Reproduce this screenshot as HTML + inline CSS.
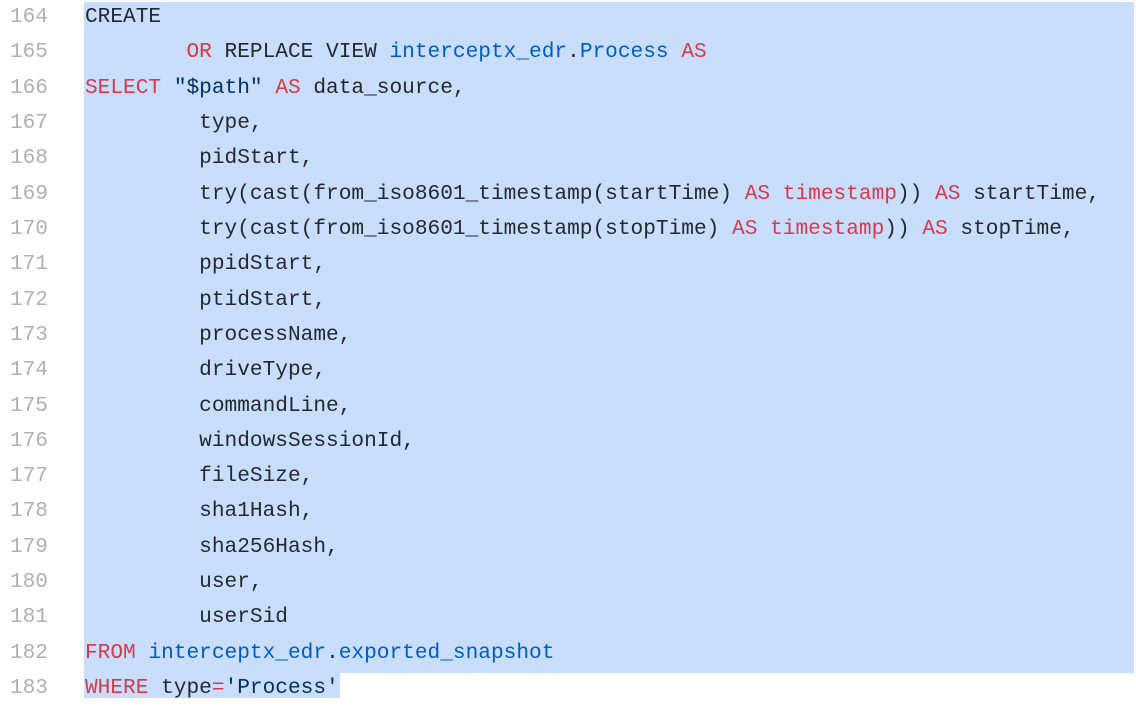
<!DOCTYPE html>
<html><head><meta charset="utf-8"><style>
body{margin:0;width:1136px;height:712px;background:#fff;position:relative;overflow:hidden;font-family:"Liberation Mono",monospace;font-size:21.15px}
.hl{position:absolute;background:#c8defc}
.ln{position:absolute;left:0;width:48px;text-align:right;color:#b0b0b0}
.c{position:absolute;left:85px;color:#24292e;white-space:pre}
.k{color:#d73a49}.b{color:#005cc5}.s{color:#032f62}
</style></head><body>
<div class="hl" style="left:84px;top:2px;width:1050px;height:671px"></div>
<div class="hl" style="left:84px;top:673px;width:256px;height:25px"></div>
<div id="w"></div>
<script>
var L=[
'CREATE',
'        <span class="k">OR</span> REPLACE VIEW <span class="b">interceptx_edr</span>.<span class="b">Process</span> <span class="k">AS</span>',
'<span class="k">SELECT</span> <span class="s">"$path"</span> <span class="k">AS</span> data_source,',
'         type,','         pidStart,',
'         try(cast(from_iso8601_timestamp(startTime) <span class="k">AS timestamp</span>)) <span class="k">AS</span> startTime,',
'         try(cast(from_iso8601_timestamp(stopTime) <span class="k">AS timestamp</span>)) <span class="k">AS</span> stopTime,',
'         ppidStart,','         ptidStart,','         processName,','         driveType,','         commandLine,','         windowsSessionId,','         fileSize,','         sha1Hash,','         sha256Hash,','         user,','         userSid',
'<span class="k">FROM</span> <span class="b">interceptx_edr</span>.<span class="b">exported_snapshot</span>',
'<span class="k">WHERE</span> type<span class="k">=</span><span class="s">\'Process\'</span>'];
var h='';
for(var i=0;i<L.length;i++){var y=14+i*35.32-9;
h+='<div class="ln" style="top:'+y+'px">'+(164+i)+'</div><div class="c" style="top:'+y+'px">'+L[i]+'</div>';}
document.getElementById('w').innerHTML=h;
</script>
</body></html>
